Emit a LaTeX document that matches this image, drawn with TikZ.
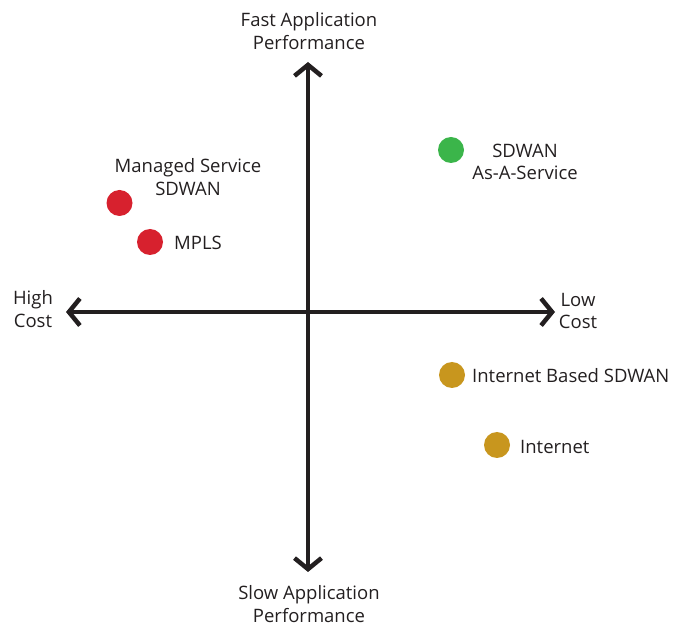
\documentclass[tikz,border=0pt]{standalone}
\usepackage{fontspec}
\setmainfont{Open Sans}
\usetikzlibrary{arrows.meta}
\definecolor{dotred}{HTML}{D7212E}
\definecolor{dotgreen}{HTML}{3BB54A}
\definecolor{dotgold}{HTML}{C8961E}
\definecolor{axisgray}{HTML}{231F20}
\begin{document}
\begin{tikzpicture}[x=1pt,y=-1pt,
  axis/.style={line width=4.5pt,draw=axisgray,
    {Straight Barb[length=11pt,width=27pt,line width=4.5pt]}-{Straight Barb[length=11pt,width=27pt,line width=4.5pt]}},
  dot/.style={circle,minimum size=26pt,inner sep=0pt,fill=#1},
  lbl/.style={font=\fontsize{18.5}{22.5}\selectfont,text=axisgray,align=center,inner sep=0pt},
  lbll/.style={lbl,anchor=west}]
\useasboundingbox (0,0) rectangle (689,628);
% axes
\coordinate (top) at (308,62);
\coordinate (bot) at (308,572);
\coordinate (lft) at (66,312);
\coordinate (rgt) at (555,312);
\draw[axis] (bot) -- (top);
\draw[axis] (lft) -- (rgt);
% axis labels
\node[lbl] (fast) at (309,31) {Fast Application\\Performance};
\node[lbl] (slow) at (309,604) {Slow Application\\Performance};
\node[lbl] (high) at (33,309) {High\\Cost};
\node[lbl] (low) at (578,311) {Low\\Cost};
% offerings
\node[dot=dotred] (msd) at (119.5,203) {};
\node[lbl] (msdl) at (188,177) {Managed Service\\SDWAN};
\node[dot=dotred] (mpls) at (150,242) {};
\node[lbll] (mplsl) at (174,243) {MPLS};
\node[dot=dotgreen] (saas) at (451,150) {};
\node[lbl] (saasl) at (525,162) {SDWAN\\As-A-Service};
\node[dot=dotgold] (ibs) at (452,375) {};
\node[lbll] (ibsl) at (472,376) {Internet Based SDWAN};
\node[dot=dotgold] (inet) at (497,445) {};
\node[lbll] (inetl) at (520,447) {Internet};
\end{tikzpicture}
\end{document}
